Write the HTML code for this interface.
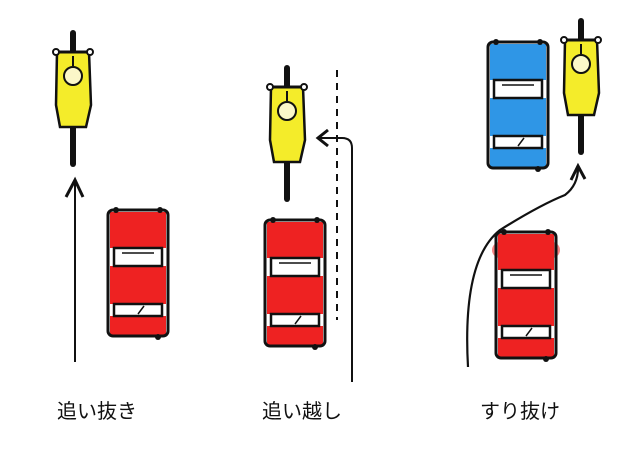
<!DOCTYPE html>
<html><head><meta charset="utf-8"><style>
html,body{margin:0;padding:0;background:#fff}
svg{display:block}
text{font-family:"Liberation Sans","Noto Sans CJK JP",sans-serif;font-size:20px;fill:#111}
</style></head><body>
<svg width="640" height="461" viewBox="0 0 640 461" xmlns="http://www.w3.org/2000/svg">
<defs>
<g id="car">
  <rect x="0" y="2" width="60" height="126" rx="5" fill="none" stroke="#111" stroke-width="3"/>
  <rect x="6" y="40" width="48" height="18" fill="#fff" stroke="#111" stroke-width="2.5"/>
  <rect x="6" y="96" width="48" height="12" fill="#fff" stroke="#111" stroke-width="2.5"/>
  <line x1="14" y1="45" x2="46" y2="45" stroke="#111" stroke-width="1.5"/>
  <line x1="30" y1="106" x2="36" y2="98" stroke="#111" stroke-width="1.5"/>
  <circle cx="8" cy="2" r="3" fill="#111"/><circle cx="52" cy="2" r="3" fill="#111"/>
  <circle cx="50" cy="129" r="3" fill="#111"/>
</g>
<g id="bike">
  <rect x="-3" y="0" width="6" height="26" rx="3" fill="#111"/>
  <rect x="-3" y="95" width="6" height="42" rx="3" fill="#111"/>
  <path d="M-16 22 L16 22 L18 75 L13 97 L-13 97 L-17 75 Z" fill="#f4ec2a" stroke="#111" stroke-width="2.5"/>
  <line x1="-17" y1="22" x2="17" y2="22" stroke="#111" stroke-width="3"/>
  <circle cx="-17" cy="22" r="3" fill="#fff" stroke="#111" stroke-width="2"/>
  <circle cx="17" cy="22" r="3" fill="#fff" stroke="#111" stroke-width="2"/>
  <circle cx="0" cy="46" r="9" fill="#fbf7c8" stroke="#111" stroke-width="2"/>
  <line x1="0" y1="26" x2="0" y2="36" stroke="#111" stroke-width="2"/>
</g>
</defs>
<!-- scene 1 -->
<g transform="translate(73,30)"><use href="#bike"/></g>
<g transform="translate(108,208)">
  <rect x="2" y="4" width="56" height="36" fill="#ee2222"/><rect x="2" y="58" width="56" height="38" fill="#ee2222"/><rect x="2" y="108" width="56" height="20" fill="#ee2222"/>
  <use href="#car"/>
</g>
<line x1="75" y1="362" x2="75" y2="180" stroke="#111" stroke-width="2"/>
<path d="M66 197 L75 180 L83 197" fill="none" stroke="#111" stroke-width="3"/>
<text x="57" y="418">追い抜き</text>
<!-- scene 2 -->
<g transform="translate(287,65)"><use href="#bike"/></g>
<g transform="translate(265,218)">
  <rect x="2" y="4" width="56" height="36" fill="#ee2222"/><rect x="2" y="58" width="56" height="38" fill="#ee2222"/><rect x="2" y="108" width="56" height="20" fill="#ee2222"/>
  <use href="#car"/>
</g>
<line x1="337" y1="70" x2="337" y2="320" stroke="#111" stroke-width="2" stroke-dasharray="7,6"/>
<path d="M352 382 L352 148 Q352 138 342 138 L318 138" fill="none" stroke="#111" stroke-width="2"/>
<path d="M328 130 L318 138 L328 146" fill="none" stroke="#111" stroke-width="3"/>
<text x="262" y="418">追い越し</text>
<!-- scene 3 -->
<g transform="translate(488,40)">
  <rect x="2" y="4" width="56" height="36" fill="#2f96e6"/><rect x="2" y="58" width="56" height="38" fill="#2f96e6"/><rect x="2" y="108" width="56" height="20" fill="#2f96e6"/>
  <use href="#car"/>
</g>
<g transform="translate(581,18)"><use href="#bike"/></g>
<g transform="translate(496,230)">
  <rect x="-4" y="12" width="68" height="16" rx="8" fill="#f03030" opacity="0.6"/>
  <rect x="2" y="4" width="56" height="36" fill="#ee2222"/><rect x="2" y="58" width="56" height="38" fill="#ee2222"/><rect x="2" y="108" width="56" height="20" fill="#ee2222"/>
  <use href="#car"/>
</g>
<path d="M468 367 Q462 260 500 230 Q540 205 565 195 Q578 185 578 168" fill="none" stroke="#111" stroke-width="2.2"/>
<path d="M571 180 L578 166 L585 179" fill="none" stroke="#111" stroke-width="3"/>
<text x="480" y="418">すり抜け</text>
</svg>
</body></html>
